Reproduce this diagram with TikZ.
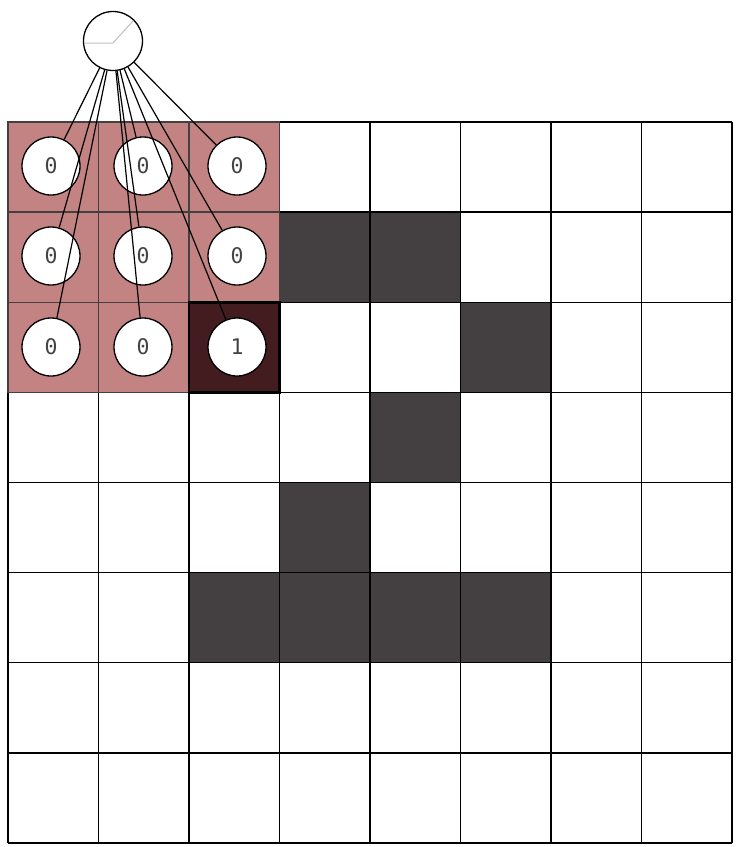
\documentclass[tikz,border=0pt]{standalone}
\usepackage{fontspec}
\newfontfamily\monof{DejaVu Sans Mono}
\definecolor{pinkc}{HTML}{C48383}
\definecolor{darkred}{HTML}{431C20}
\definecolor{darkg}{HTML}{444041}
\definecolor{txtg}{HTML}{444444}
\begin{document}
\begin{tikzpicture}[x=1pt,y=-1pt,
  cellc/.style={circle,draw=black,line width=1.3pt,fill=white,minimum size=58pt,inner sep=0pt,font=\monof\fontsize{21.5}{21.5}\selectfont,text=txtg},
  conn/.style={line width=1.2pt,black},
  gridl/.style={line width=1.4pt}]
\useasboundingbox (0,0) rectangle (737,847);
\def\cw{90.5}\def\ch{90.125}
% pink receptive field
\foreach \i in {0,1,2}{\foreach \j in {0,1,2}{
  \fill[pinkc] (8+\i*\cw,122+\j*\ch) rectangle ++(\cw,\ch);}}
\fill[darkred] (8+2*\cw,122+2*\ch) rectangle ++(\cw,\ch);
% dark cells
\foreach \i/\j in {3/1,4/1,5/2,4/3,3/4,2/5,3/5,4/5,5/5}{
  \fill[darkg] (8+\i*\cw,122+\j*\ch) rectangle ++(\cw,\ch);}
% grid
\foreach \k in {0,...,8}{
  \draw[gridl] (8+\k*\cw,122) -- (8+\k*\cw,843);
  \draw[gridl] (8,122+\k*\ch) -- (732,122+\k*\ch);}
\draw[gridl,draw=darkg] (8,122) rectangle (8+3*\cw,122+3*\ch);
\foreach \k in {1,2}{
  \draw[gridl,draw=darkg] (8+\k*\cw,122) -- (8+\k*\cw,122+3*\ch);
  \draw[gridl,draw=darkg] (8,122+\k*\ch) -- (8+3*\cw,122+\k*\ch);}
\draw[line width=2.6pt] (8+2*\cw,122+2*\ch) rectangle ++(\cw,\ch);
% input circles
\node[cellc] (c00) at (51,166) {0};
\node[cellc] (c10) at (143,166) {0};
\node[cellc] (c20) at (237,166) {0};
\node[cellc] (c01) at (51,256) {0};
\node[cellc] (c11) at (143,256) {0};
\node[cellc] (c21) at (237,256) {0};
\node[cellc] (c02) at (51,347) {0};
\node[cellc] (c12) at (143,347) {0};
\node[cellc] (c22) at (237,347) {1};
% neuron
\node[circle,draw=black,line width=1.3pt,fill=white,minimum size=59pt,inner sep=0pt] (n) at (113,41) {};
\draw[line width=1pt,black!25] (84,43) -- (113,43) -- (133,21);
% connectors
\foreach \t in {c00,c10,c20,c01,c11,c21,c02,c12,c22}{
  \draw[conn] (n) -- (\t);}
\end{tikzpicture}
\end{document}
